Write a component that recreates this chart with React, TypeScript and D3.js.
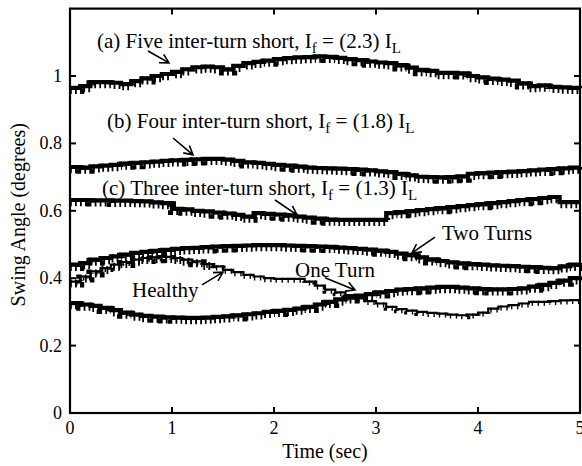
import React from 'react';
import * as d3 from 'd3';

// Swing angle (degrees) sampled every 0.1 s from t = 0 to 5 s
const five = [0.965, 0.970, 0.982, 0.982, 0.980, 0.976, 0.985, 0.993, 1.000, 1.006,
  1.012, 1.020, 1.026, 1.028, 1.026, 1.020, 1.030, 1.038, 1.042, 1.046,
  1.050, 1.053, 1.055, 1.056, 1.058, 1.057, 1.054, 1.050, 1.047, 1.043,
  1.040, 1.038, 1.032, 1.025, 1.018, 1.015, 1.009, 1.009, 1.008, 1.000,
  0.996, 0.992, 0.989, 0.986, 0.978, 0.970, 0.972, 0.968, 0.966, 0.965, 0.964];
const four = [0.730, 0.728, 0.732, 0.734, 0.736, 0.740, 0.742, 0.744, 0.746, 0.748,
  0.750, 0.751, 0.753, 0.754, 0.754, 0.752, 0.748, 0.744, 0.742, 0.739,
  0.736, 0.734, 0.731, 0.728, 0.727, 0.726, 0.725, 0.724, 0.722, 0.720,
  0.717, 0.715, 0.710, 0.705, 0.701, 0.700, 0.699, 0.700, 0.702, 0.710,
  0.712, 0.713, 0.715, 0.716, 0.718, 0.720, 0.722, 0.724, 0.726, 0.728, 0.730];
const three = [0.632, 0.632, 0.631, 0.631, 0.630, 0.630, 0.629, 0.628, 0.625, 0.623,
  0.606, 0.604, 0.600, 0.598, 0.595, 0.592, 0.588, 0.583, 0.593, 0.591,
  0.589, 0.586, 0.583, 0.580, 0.577, 0.574, 0.573, 0.573, 0.573, 0.573,
  0.573, 0.593, 0.596, 0.599, 0.602, 0.605, 0.608, 0.611, 0.614, 0.617,
  0.620, 0.623, 0.626, 0.629, 0.632, 0.635, 0.638, 0.641, 0.626, 0.626, 0.626];
const twoTurns = [0.440, 0.445, 0.455, 0.460, 0.465, 0.470, 0.475, 0.478, 0.481, 0.484,
  0.487, 0.489, 0.490, 0.492, 0.494, 0.495, 0.496, 0.497, 0.498, 0.498,
  0.498, 0.497, 0.496, 0.495, 0.494, 0.493, 0.491, 0.489, 0.487, 0.485,
  0.482, 0.478, 0.473, 0.469, 0.462, 0.456, 0.451, 0.447, 0.444, 0.442,
  0.440, 0.438, 0.437, 0.436, 0.434, 0.433, 0.431, 0.430, 0.435, 0.440, 0.445];
const healthy = [0.390, 0.405, 0.420, 0.430, 0.440, 0.448, 0.455, 0.460, 0.462, 0.463,
  0.460, 0.455, 0.450, 0.442, 0.435, 0.425, 0.418, 0.410, 0.405, 0.400,
  0.398, 0.398, 0.398, 0.390, 0.378, 0.366, 0.358, 0.350, 0.340, 0.332,
  0.325, 0.315, 0.308, 0.304, 0.300, 0.297, 0.295, 0.292, 0.290, 0.292,
  0.298, 0.310, 0.316, 0.320, 0.325, 0.330, 0.330, 0.332, 0.334, 0.335, 0.336];
const oneTurn = [0.326, 0.322, 0.318, 0.312, 0.305, 0.298, 0.292, 0.288, 0.286, 0.284,
  0.283, 0.282, 0.282, 0.283, 0.285, 0.287, 0.290, 0.293, 0.296, 0.300,
  0.303, 0.306, 0.310, 0.315, 0.322, 0.330, 0.337, 0.343, 0.348, 0.353,
  0.358, 0.362, 0.366, 0.368, 0.370, 0.372, 0.374, 0.374, 0.372, 0.370,
  0.368, 0.367, 0.367, 0.368, 0.370, 0.375, 0.380, 0.386, 0.393, 0.400, 0.405];

const xTicks = [0, 1, 2, 3, 4, 5];
const yTicks = [0, 0.2, 0.4, 0.6, 0.8, 1];
const yTickLabels = ['0', '0.2', '0.4', '0.6', '0.8', '1'];

const faultNotes = [
  { prefix: '(a) Five inter-turn short, I', ratio: '(2.3)', tx: 0.265, ty: 1.083, ax: 0.765, ay: 1.074, bx: 0.97, by: 1.039 },
  { prefix: '(b) Four inter-turn short, I', ratio: '(1.8)', tx: 0.363, ty: 0.846, ax: 1.01, ay: 0.816, bx: 1.206, by: 0.766 },
  { prefix: '(c) Three inter-turn short, I', ratio: '(1.3)', tx: 0.314, ty: 0.647, ax: 2.01, ay: 0.632, bx: 2.225, by: 0.588 },
];
const caseNotes = [
  { text: 'Two Turns', tx: 3.647, ty: 0.513, ax: 3.578, ay: 0.522, bx: 3.353, by: 0.475 },
  { text: 'One Turn', tx: 2.206, ty: 0.404, ax: 2.5, ay: 0.401, bx: 2.794, by: 0.365 },
  { text: 'Healthy', tx: 0.608, ty: 0.344, ax: 1.294, ay: 0.38, bx: 1.5, by: 0.418 },
];

const FONT = '"Liberation Serif", "Times New Roman", serif';

export default function App() {
  const W = 582, H = 466;
  const x = d3.scaleLinear().domain([0, 5]).range([70, 580]);
  const y = d3.scaleLinear().domain([0, 1.2]).range([413, 8.6]);
  const lineGen = d3.line<number>()
    .x((_, i) => x(i * 0.1))
    .y((v) => y(v))
    .curve(d3.curveStepAfter);

  const thick = [five, four, three, twoTurns, oneTurn];
  const healthyEarly = healthy.slice(0, 15);

  const arrow = (ax: number, ay: number, bx: number, by: number, key: string) => {
    const x1 = x(ax), y1 = y(ay), x2 = x(bx), y2 = y(by);
    const ang = Math.atan2(y2 - y1, x2 - x1);
    const L = 10, a = 0.5;
    const h1 = [x2 - L * Math.cos(ang - a), y2 - L * Math.sin(ang - a)];
    const h2 = [x2 - L * Math.cos(ang + a), y2 - L * Math.sin(ang + a)];
    return (
      <path key={key} d={`M${x1},${y1}L${x2},${y2}M${h1[0]},${h1[1]}L${x2},${y2}L${h2[0]},${h2[1]}`}
        fill="none" stroke="#000" strokeWidth={1.6} />
    );
  };

  return (
    <svg width={W} height={H} style={{ position: 'absolute', left: 0, top: 0, background: '#fff' }}
      fontFamily={FONT}>
      <rect x={0} y={0} width={W} height={H} fill="#fff" />
      {thick.map((s, i) => (
        <g key={i}>
          <path d={lineGen(s) || ''} fill="none" stroke="#000" strokeWidth={4.2} />
          <path d={lineGen(s) || ''} fill="none" stroke="#000" strokeWidth={8}
            strokeDasharray="1.8 3.2" transform="translate(0,2.2)" />
        </g>
      ))}
      <path d={lineGen(healthy) || ''} fill="none" stroke="#000" strokeWidth={2.2} />
      <path d={lineGen(healthy) || ''} fill="none" stroke="#000" strokeWidth={5}
        strokeDasharray="1.4 4.6" transform="translate(0,1.5)" />
      <path d={lineGen(healthyEarly) || ''} fill="none" stroke="#000" strokeWidth={8}
        strokeDasharray="1.8 3.2" transform="translate(0,2)" />

      <rect x={x(0)} y={y(1.2)} width={x(5) - x(0)} height={y(0) - y(1.2)} fill="none" stroke="#000" strokeWidth={2.2} />
      {xTicks.map((t) => (
        <g key={'xt' + t}>
          <line x1={x(t)} x2={x(t)} y1={y(0)} y2={y(0) - 6} stroke="#000" strokeWidth={2} />
          <line x1={x(t)} x2={x(t)} y1={y(1.2)} y2={y(1.2) + 6} stroke="#000" strokeWidth={2} />
          <text x={x(t)} y={y(0) + 21} textAnchor="middle" fontSize={18}>{t}</text>
        </g>
      ))}
      {yTicks.map((t, i) => (
        <g key={'yt' + t}>
          <line x1={x(0)} x2={x(0) + 6} y1={y(t)} y2={y(t)} stroke="#000" strokeWidth={2} />
          <line x1={x(5)} x2={x(5) - 6} y1={y(t)} y2={y(t)} stroke="#000" strokeWidth={2} />
          <text x={x(0) - 8} y={y(t) + 6} textAnchor="end" fontSize={18}>{yTickLabels[i]}</text>
        </g>
      ))}
      <text x={(x(0) + x(5)) / 2} y={458} textAnchor="middle" fontSize={20}>Time (sec)</text>
      <text transform={`translate(25,${(y(0) + y(1.2)) / 2 + 4}) rotate(-90)`} textAnchor="middle" fontSize={20}>
        Swing Angle (degrees)
      </text>

      {faultNotes.map((n, i) => (
        <g key={'fn' + i}>
          <text x={x(n.tx)} y={y(n.ty)} fontSize={21}>
            {n.prefix}
            <tspan fontSize={15} dy={5}>f</tspan>
            <tspan dy={-5}>{' = ' + n.ratio + ' I'}</tspan>
            <tspan fontSize={15} dy={5}>L</tspan>
          </text>
          {arrow(n.ax, n.ay, n.bx, n.by, 'fa' + i)}
        </g>
      ))}
      {caseNotes.map((n, i) => (
        <g key={'cn' + i}>
          <text x={x(n.tx)} y={y(n.ty)} fontSize={21}>{n.text}</text>
          {arrow(n.ax, n.ay, n.bx, n.by, 'ca' + i)}
        </g>
      ))}
    </svg>
  );
}
